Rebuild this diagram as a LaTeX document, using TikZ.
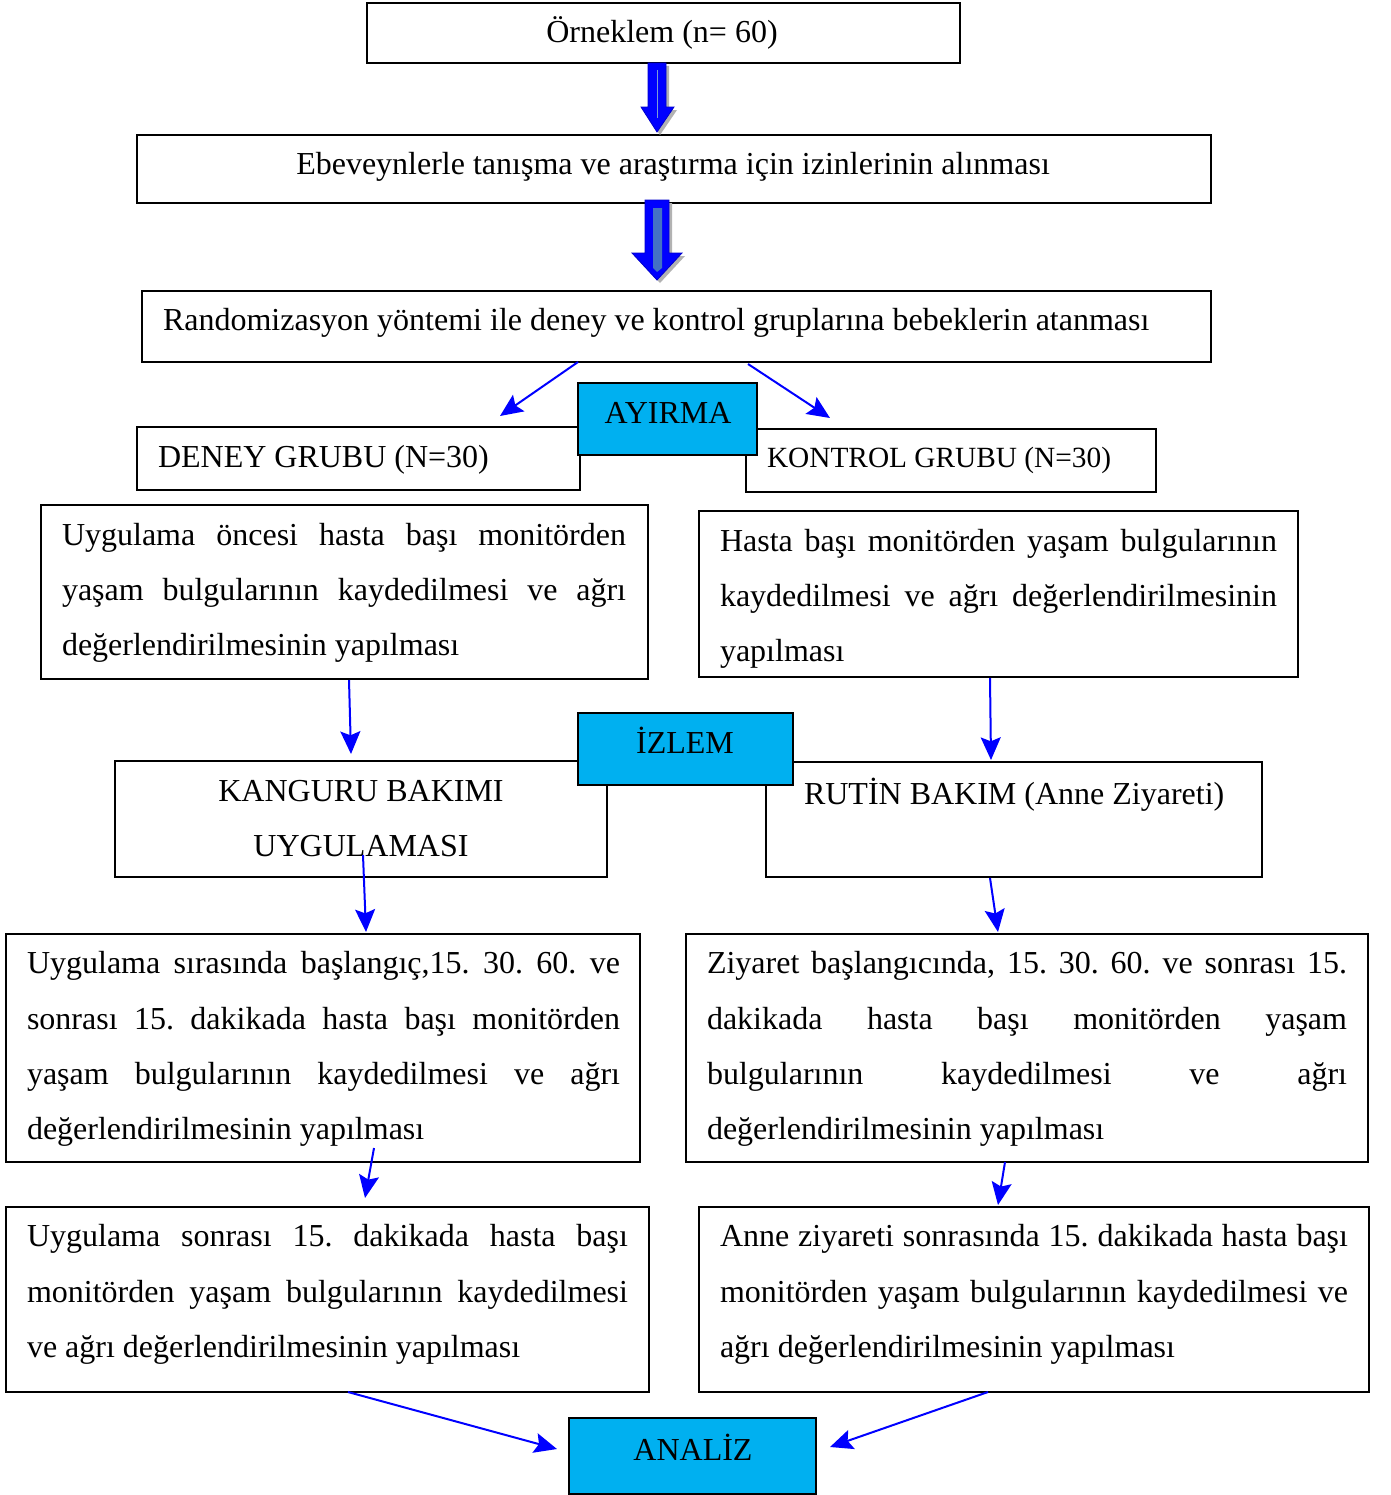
\documentclass[tikz,border=0pt]{standalone}
\usepackage{fontspec}
\setmainfont{Liberation Serif}
\usetikzlibrary{arrows.meta}
\frenchspacing
\definecolor{cyanbox}{HTML}{00B0F0}
\definecolor{innerblue}{HTML}{4472C4}
\newcommand{\mybx}[5]{\node[box, anchor=north west, minimum width={(#4-#2)*0.75pt}, minimum height={(#5-#3)*0.75pt}] (#1) at (#2,#3) {};}
\newcommand{\mycbx}[5]{\node[cbox, anchor=north west, minimum width={(#4-#2)*0.75pt}, minimum height={(#5-#3)*0.75pt}] (#1) at (#2,#3) {};}
\newcommand{\myjl}[5]{\node[txt, anchor=base west] (#1) at (#2,#4) {\makebox[#3pt][s]{#5}};}
\newcommand{\myll}[4]{\node[txt, anchor=base west] (#1) at (#2,#3) {#4};}
\newcommand{\mycl}[4]{\node[txt, anchor=base] (#1) at (#2,#3) {#4};}
\begin{document}
\begin{tikzpicture}[x=0.75pt,y=-0.75pt,
  box/.style={draw=black, line width=1.3pt, fill=white, inner sep=0pt, outer sep=0pt},
  cbox/.style={draw=black, line width=1pt, fill=cyanbox, inner sep=0pt, outer sep=0pt},
  txt/.style={inner sep=0pt, outer sep=0pt, font=\fontsize{24}{28}\selectfont\frenchspacing},
  conn/.style={draw=blue, line width=1.5pt, -{Stealth[length=17pt,width=15pt,inset=3pt]}},
  blockarrow/.style={fill=blue, draw=blue!80!black, line width=0.6pt}]
\useasboundingbox (0,0) rectangle (1390,1495);
\fill[white] (0,0) rectangle (1390,1495);

% boxes
\mybx{b1}{367}{3}{960}{63}
\mybx{b2}{137}{135}{1211}{203}
\mybx{b3}{142}{291}{1211}{362}
\mybx{b5}{137}{427}{580}{490}
\mybx{b6}{746}{429}{1156}{492}
\mycbx{b4}{578}{383}{757}{455}
\mybx{b7}{41}{505}{648}{679}
\mybx{b8}{699}{511}{1298}{677}
\mybx{b10}{115}{761}{607}{877}
\mybx{b11}{766}{762}{1262}{877}
\mycbx{b9}{578}{713}{793}{785}
\mybx{b12}{6}{934}{640}{1162}
\mybx{b13}{686}{934}{1368}{1162}
\mybx{b14}{6}{1207}{649}{1392}
\mybx{b15}{699}{1207}{1369}{1392}
\mycbx{b16}{569}{1418}{816}{1494}

% block arrows
\fill[gray!60] (651,66) -- (669,66) -- (669,110) -- (677,110) -- (660,135) -- (644,110) -- (651,110) -- cycle;
\path[blockarrow] (648,63) -- (666,63) -- (666,107) -- (674,107) -- (657,132) -- (641,107) -- (648,107) -- cycle;
\draw[innerblue!70, line width=0.6pt] (657,70) -- (657,118);
\fill[gray!60] (648,203) -- (672,203) -- (672,256) -- (685,256) -- (660,283) -- (635,256) -- (648,256) -- cycle;
\path[blockarrow] (645,200) -- (669,200) -- (669,253) -- (682,253) -- (657,280) -- (632,253) -- (645,253) -- cycle;
\fill[innerblue] (653,208) -- (662,208) -- (662,268) -- (657,272) -- (653,268) -- cycle;

% texts
\mycl{t1}{662}{43}{Örneklem (n= 60)}
\mycl{t2}{673}{174}{Ebeveynlerle tanışma ve araştırma için izinlerinin alınması}
\myll{t3}{163}{330}{Randomizasyon yöntemi ile deney ve kontrol gruplarına bebeklerin atanması}
\mycl{t4}{668}{423}{AYIRMA}
\myll{t5}{158}{467}{DENEY GRUBU (N=30)}
\node[txt, anchor=base west, font=\fontsize{22}{26}\selectfont] (t6) at (767,467) {KONTROL GRUBU (N=30)};

\myjl{t7a}{62}{423}{545}{Uygulama öncesi hasta başı monitörden}
\myjl{t7b}{62}{423}{600}{yaşam bulgularının kaydedilmesi ve ağrı}
\myll{t7c}{62}{655}{değerlendirilmesinin yapılması}

\myjl{t8a}{720}{417.75}{551}{Hasta başı monitörden yaşam bulgularının}
\myjl{t8b}{720}{417.75}{606}{kaydedilmesi ve ağrı değerlendirilmesinin}
\myll{t8c}{720}{661}{yapılması}

\mycl{t9}{685}{753}{İZLEM}
\mycl{t10a}{361}{801}{KANGURU BAKIMI}
\mycl{t10b}{361}{856}{UYGULAMASI}
\myll{t11}{804}{804}{RUTİN BAKIM (Anne Ziyareti)}

\myjl{t12a}{27}{444.75}{973}{Uygulama sırasında başlangıç,15. 30. 60. ve}
\myjl{t12b}{27}{444.75}{1029}{sonrası 15. dakikada hasta başı monitörden}
\myjl{t12c}{27}{444.75}{1084}{yaşam bulgularının kaydedilmesi ve ağrı}
\myll{t12d}{27}{1139}{değerlendirilmesinin yapılması}

\myjl{t13a}{707}{480}{973}{Ziyaret başlangıcında, 15. 30. 60. ve sonrası 15.}
\myjl{t13b}{707}{480}{1029}{dakikada hasta başı monitörden yaşam}
\myjl{t13c}{707}{480}{1084}{bulgularının kaydedilmesi ve ağrı}
\myll{t13d}{707}{1139}{değerlendirilmesinin yapılması}

\myjl{t14a}{27}{450.75}{1246}{Uygulama sonrası 15. dakikada hasta başı}
\myjl{t14b}{27}{450.75}{1302}{monitörden yaşam bulgularının kaydedilmesi}
\myll{t14c}{27}{1357}{ve ağrı değerlendirilmesinin yapılması}

\myjl{t15a}{720}{471}{1246}{Anne ziyareti sonrasında 15. dakikada hasta başı}
\myjl{t15b}{720}{471}{1302}{monitörden yaşam bulgularının kaydedilmesi ve}
\myll{t15c}{720}{1357}{ağrı değerlendirilmesinin yapılması}

\mycl{t16}{693}{1460}{ANALİZ}

% connector end points
\coordinate (a1s) at (578,362); \coordinate (a1e) at (500,416);
\coordinate (a2s) at (748,364); \coordinate (a2e) at (830,418);
\coordinate (a3s) at (349,680); \coordinate (a3e) at (351,754);
\coordinate (a4s) at (990,678); \coordinate (a4e) at (991,760);
\coordinate (a5s) at (363,855); \coordinate (a5e) at (366,932);
\coordinate (a6s) at (990,878); \coordinate (a6e) at (998,932);
\coordinate (a7s) at (374,1148); \coordinate (a7e) at (365,1198);
\coordinate (a8s) at (1005,1162); \coordinate (a8e) at (998,1205);
\coordinate (a9s) at (348,1392); \coordinate (a9e) at (557,1449);
\coordinate (a10s) at (988,1392); \coordinate (a10e) at (830,1447);
\foreach \i in {1,...,10} {\draw[conn] (a\i s) -- (a\i e);}
\end{tikzpicture}
\end{document}
